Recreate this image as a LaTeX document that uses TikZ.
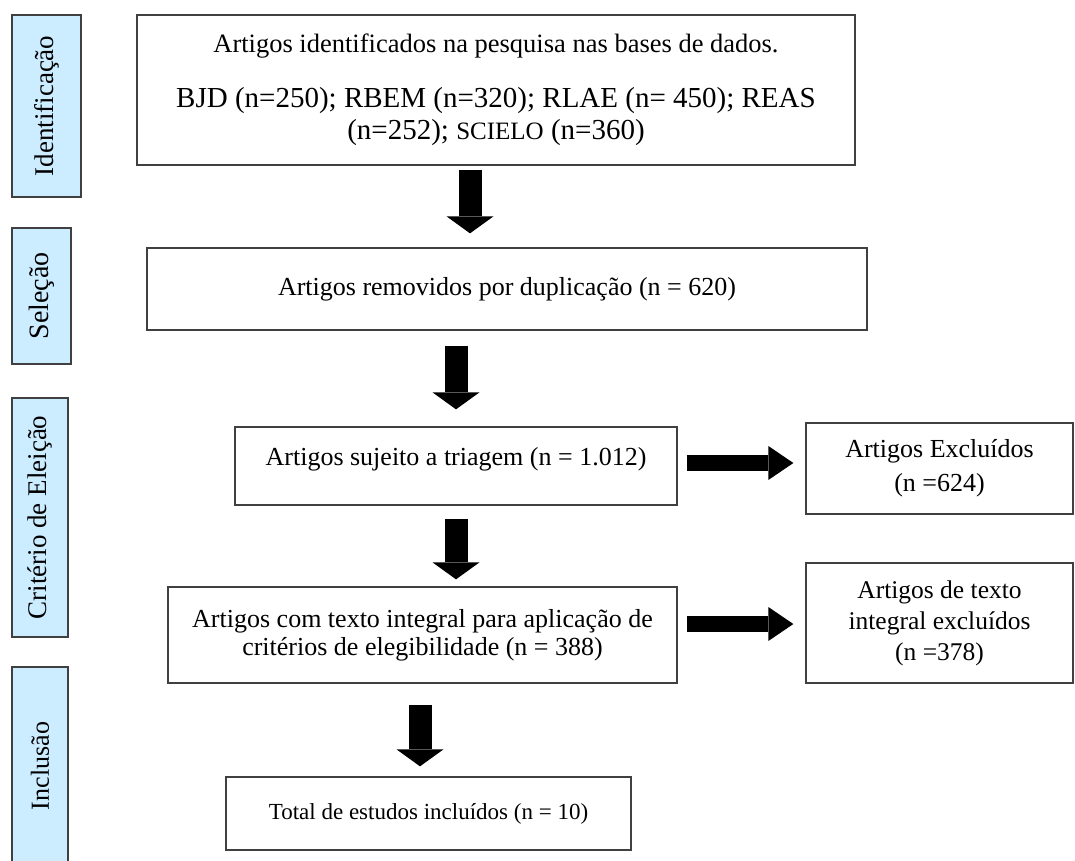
\documentclass[tikz,border=0pt]{standalone}
\usepackage{fontspec}
\setmainfont{Liberation Serif}
\usepackage{tikz}
\usetikzlibrary{arrows.meta}
\usetikzlibrary{positioning,calc}
\definecolor{stageblue}{RGB}{204,236,255}
\definecolor{edgegray}{RGB}{64,64,64}
\tikzset{
    stage/.style={
        draw=edgegray,
        fill=stageblue,
        line width=1.5pt,
        rotate=90,
        inner sep=0pt
    },
    box/.style={
        draw=edgegray,
        line width=1.3pt,
        align=center,
        inner sep=0pt
    },
    downarrow/.style={
        line width=23pt,
        -{Triangle[length=17pt, width=47pt, line width=0pt]}
    },
    rightarrow/.style={
        line width=16pt,
        -{Triangle[length=25pt, width=34pt, line width=0pt]}
    }
}

\begin{document}
\begin{tikzpicture}[x=1pt, y=-1pt]
  \useasboundingbox (0,0) rectangle (1075,861);

  % Stage labels
  \node[stage, minimum width=182pt, minimum height=69pt, font=\fontsize{27}{30}\selectfont] (s1) at (46.5,106) {Identificação};
  \node[stage, minimum width=136pt, minimum height=59pt, font=\fontsize{28}{30}\selectfont] (s2) at (41.5,296) {Seleção};
  \node[stage, minimum width=239pt, minimum height=56pt, font=\fontsize{27}{30}\selectfont] (s3) at (40,517.5) {Critério de Eleição};
  \node[stage, minimum width=198pt, minimum height=56pt, font=\fontsize{26}{30}\selectfont] (s4) at (40,766) {Inclusão};

  % Boxes
  \node[box, minimum width=718pt, minimum height=150pt, font=\fontsize{29}{32}\selectfont] (b1) at (496,90)
    {{\fontsize{26.5}{30}\selectfont Artigos identificados na pesquisa nas bases de dados.}\\[23pt]
     BJD (n=250); RBEM (n=320); RLAE (n= 450); REAS\\
     (n=252); {\fontsize{25}{32}\selectfont SCIELO} (n=360)};
  \node[box, minimum width=720pt, minimum height=82pt, font=\fontsize{26}{30}\selectfont] (b2) at (507,289)
    {Artigos removidos por duplicação (n = 620)};
  \node[box, minimum width=442pt, minimum height=78pt, font=\fontsize{26}{30}\selectfont,
        text height=18pt, text depth=19pt] (b3) at (456,466)
    {Artigos sujeito a triagem (n = 1.012)};
  \node[box, minimum width=267pt, minimum height=91pt, font=\fontsize{26}{34}\selectfont] (b4) at (939.5,468.5)
    {Artigos Excluídos\\(n =624)};
  \node[box, minimum width=509pt, minimum height=96pt, font=\fontsize{26}{28}\selectfont] (b5) at (422.5,635)
    {Artigos com texto integral para aplicação de\\critérios de elegibilidade (n = 388)};
  \node[box, minimum width=267pt, minimum height=120pt, font=\fontsize{25.5}{31}\selectfont] (b6) at (939.5,623)
    {Artigos de texto\\integral excluídos\\(n =378)};
  \node[box, minimum width=405pt, minimum height=73pt, font=\fontsize{23}{28}\selectfont] (b7) at (428.5,813.5)
    {Total de estudos incluídos (n = 10)};

  % Arrow columns and rows
  \coordinate (colA) at (470,0);
  \coordinate (colB) at (456,0);
  \coordinate (colC) at (420,0);
  \coordinate (rowA) at (0,463);
  \coordinate (rowB) at (0,624);

  % Arrows
  \draw[downarrow, shorten <=4pt, shorten >=14pt] (b1.south -| colA) -- (b2.north -| colA);
  \draw[downarrow, shorten <=15pt, shorten >=17pt] (b2.south -| colB) -- (b3.north -| colB);
  \draw[downarrow, shorten <=13pt, shorten >=7pt] (b3.south -| colB) -- (b5.north -| colB);
  \draw[downarrow, shorten <=21pt, shorten >=10pt] (b5.south -| colC) -- (b7.north -| colC);
  \draw[rightarrow, shorten <=9pt, shorten >=12pt] (b3.east |- rowA) -- (b4.west |- rowA);
  \draw[rightarrow, shorten <=9pt, shorten >=12pt] (b5.east |- rowB) -- (b6.west |- rowB);
\end{tikzpicture}
\end{document}
